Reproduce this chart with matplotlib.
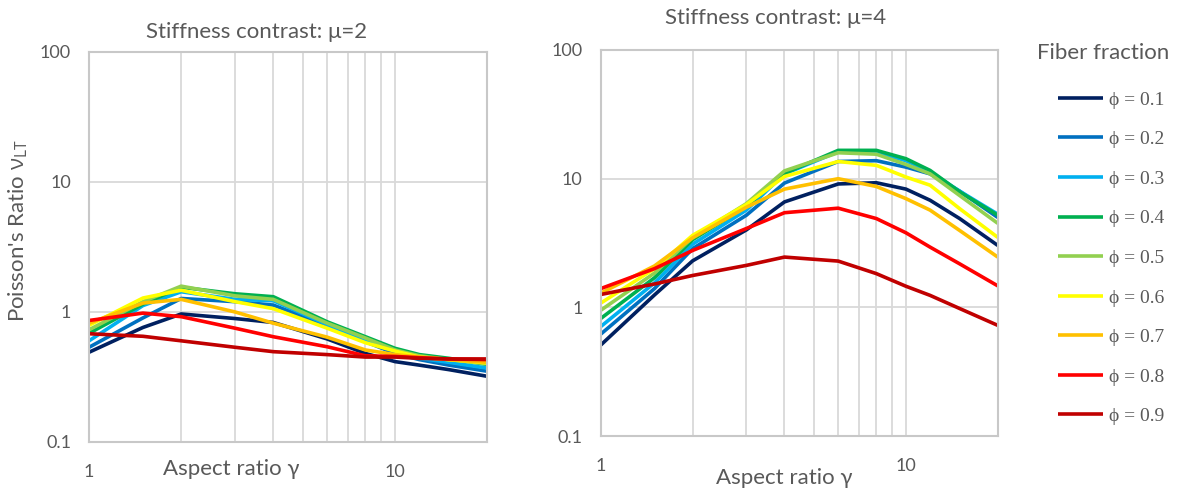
import matplotlib
matplotlib.use("Agg")
import matplotlib.pyplot as plt
from matplotlib.ticker import FixedLocator, FixedFormatter, NullFormatter

# aspect ratio values (same for both panels)
aspect = [1, 1.5, 2, 3, 4, 6, 8, 10, 12, 15, 20]

fractions = ["0.1", "0.2", "0.3", "0.4", "0.5", "0.6", "0.7", "0.8", "0.9"]
colors = ["#002060", "#0070C0", "#00B0F0", "#00B050", "#92D050",
          "#FFFF00", "#FFC000", "#FF0000", "#C00000"]

# mu = 2
mu2_phi01 = [0.49, 0.76, 0.965, 0.89, 0.83, 0.62, 0.48, 0.415, 0.39, 0.36, 0.32]
mu2_phi02 = [0.535, 0.90, 1.27, 1.20, 1.13, 0.78, 0.59, 0.48, 0.43, 0.39, 0.35]
mu2_phi03 = [0.60, 1.12, 1.43, 1.25, 1.22, 0.80, 0.60, 0.50, 0.44, 0.41, 0.37]
mu2_phi04 = [0.685, 1.15, 1.55, 1.38, 1.31, 0.84, 0.645, 0.525, 0.47, 0.44, 0.395]
mu2_phi05 = [0.73, 1.20, 1.58, 1.33, 1.25, 0.82, 0.63, 0.51, 0.46, 0.43, 0.40]
mu2_phi06 = [0.79, 1.28, 1.47, 1.20, 1.06, 0.75, 0.58, 0.50, 0.45, 0.43, 0.405]
mu2_phi07 = [0.82, 1.17, 1.25, 1.00, 0.82, 0.64, 0.51, 0.47, 0.45, 0.43, 0.41]
mu2_phi08 = [0.86, 0.98, 0.92, 0.75, 0.645, 0.54, 0.46, 0.455, 0.445, 0.435, 0.43]
mu2_phi09 = [0.68, 0.65, 0.60, 0.535, 0.495, 0.47, 0.45, 0.45, 0.44, 0.435, 0.435]

# mu = 4
mu4_phi01 = [0.51, 1.25, 2.3, 4.0, 6.6, 9.1, 9.3, 8.3, 6.8, 4.9, 3.03]
mu4_phi02 = [0.62, 1.4, 2.86, 5.2, 9.25, 13.6, 13.8, 12.3, 10.9, 8.0, 5.0]
mu4_phi03 = [0.71, 1.55, 3.1, 5.7, 10.9, 16.2, 16.0, 13.8, 11.3, 8.0, 5.3]
mu4_phi04 = [0.82, 1.7, 3.36, 6.1, 11.0, 16.6, 16.6, 14.3, 11.6, 7.9, 5.2]
mu4_phi05 = [0.95, 1.85, 3.5, 6.4, 11.5, 15.9, 15.5, 12.9, 10.9, 7.4, 4.5]
mu4_phi06 = [1.08, 2.0, 3.63, 6.3, 10.4, 13.6, 12.7, 10.3, 8.9, 5.85, 3.5]
mu4_phi07 = [1.29, 2.1, 3.47, 6.0, 8.3, 10.0, 8.7, 7.0, 5.7, 3.96, 2.46]
mu4_phi08 = [1.40, 2.0, 2.77, 4.1, 5.44, 5.9, 4.9, 3.8, 2.94, 2.18, 1.47]
mu4_phi09 = [1.26, 1.52, 1.77, 2.12, 2.46, 2.29, 1.83, 1.46, 1.24, 0.98, 0.725]

mu2_series = [mu2_phi01, mu2_phi02, mu2_phi03, mu2_phi04, mu2_phi05,
              mu2_phi06, mu2_phi07, mu2_phi08, mu2_phi09]
mu4_series = [mu4_phi01, mu4_phi02, mu4_phi03, mu4_phi04, mu4_phi05,
              mu4_phi06, mu4_phi07, mu4_phi08, mu4_phi09]

TEXT = "#595959"
GRID = "#D9D9D9"
SANS = ["Lato", "Open Sans", "DejaVu Sans"]


def style_axes(ax):
    ax.set_xscale("log")
    ax.set_yscale("log")
    ax.set_xlim(1, 20)
    ax.set_ylim(0.1, 100)
    ax.xaxis.set_major_locator(FixedLocator([1, 10]))
    ax.xaxis.set_major_formatter(FixedFormatter(["1", "10"]))
    ax.xaxis.set_minor_locator(FixedLocator([2, 3, 4, 5, 6, 7, 8, 9, 20]))
    ax.xaxis.set_minor_formatter(NullFormatter())
    ax.yaxis.set_major_locator(FixedLocator([0.1, 1, 10, 100]))
    ax.yaxis.set_major_formatter(FixedFormatter(["0.1", "1", "10", "100"]))
    ax.yaxis.set_minor_locator(FixedLocator([]))
    ax.grid(True, which="both", axis="x", color=GRID, lw=1.3)
    ax.grid(True, which="major", axis="y", color=GRID, lw=1.3)
    ax.set_axisbelow(True)
    for sp in ax.spines.values():
        sp.set_color("#C8C8C8")
        sp.set_linewidth(1.5)
    ax.tick_params(which="both", length=0, colors=TEXT, labelsize=13)
    ax.tick_params(axis="x", pad=16)
    ax.tick_params(axis="y", pad=13)
    for lab in ax.get_xticklabels() + ax.get_yticklabels():
        lab.set_family(SANS)


def plot_panel(ax, series):
    lines = []
    for vals, c, f in zip(series, colors, fractions):
        ln, = ax.plot(aspect, vals, color=c, lw=2.6, label="ϕ = " + f,
                      solid_capstyle="butt")
        lines.append(ln)
    style_axes(ax)
    return lines


def main():
    plt.rcParams["mathtext.fontset"] = "custom"
    plt.rcParams["mathtext.rm"] = "Open Sans"
    plt.rcParams["mathtext.it"] = "Open Sans:italic"

    fig = plt.figure(figsize=(11.78, 4.9), dpi=100)
    ax1 = fig.add_axes([0.0756, 0.098, 0.338, 0.796])
    ax2 = fig.add_axes([0.510, 0.110, 0.337, 0.788])

    lines = plot_panel(ax1, mu2_series)
    plot_panel(ax2, mu4_series)

    ax1.text(0.421, 1.051, "Stiffness contrast: μ=2", transform=ax1.transAxes,
             ha="center", va="center", fontsize=16, color=TEXT, family=SANS)
    ax2.text(0.441, 1.083, "Stiffness contrast: μ=4", transform=ax2.transAxes,
             ha="center", va="center", fontsize=16, color=TEXT, family=SANS)

    ax1.set_xlabel("Aspect ratio γ", fontsize=16, color=TEXT, family=SANS)
    ax1.xaxis.set_label_coords(0.357, -0.069)
    ax1.xaxis.label.set_va("center")
    ax2.set_xlabel("Aspect ratio γ", fontsize=16, color=TEXT, family=SANS)
    ax2.xaxis.set_label_coords(0.463, -0.109)
    ax2.xaxis.label.set_va("center")

    ax1.set_ylabel("Poisson's Ratio $\\mathrm{\\nu_{LT}}$", fontsize=16,
                   color=TEXT, family=SANS)
    ax1.yaxis.set_label_coords(-0.178, 0.541)
    ax1.yaxis.label.set_va("center")

    # legend heading drawn as figure text, entries via fig.legend
    fig.text(1103 / 1178, 1 - 53 / 490, "Fiber fraction", ha="center",
             va="center", fontsize=16, color=TEXT, family=SANS)
    leg = fig.legend(handles=lines, loc="upper left",
                     bbox_to_anchor=(1058 / 1178, 1 - 91 / 490),
                     frameon=False,
                     prop={"family": ["Liberation Serif", "DejaVu Serif"],
                           "size": 14},
                     handlelength=2.3, handletextpad=0.3, labelspacing=1.13,
                     borderpad=0, borderaxespad=0)
    for t in leg.get_texts():
        t.set_color(TEXT)

    fig.savefig("out.png", dpi=100)


if __name__ == '__main__':
    main()
